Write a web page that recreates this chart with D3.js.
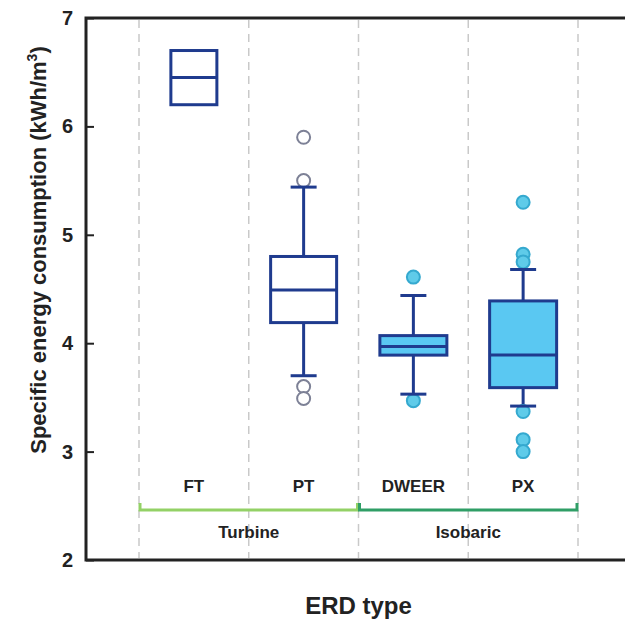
<!DOCTYPE html>
<html>
<head>
<meta charset="utf-8">
<script src="https://cdn.jsdelivr.net/npm/d3@7"></script>
<style>
  body { margin: 0; background: #fff; }
  text { font-family: "Liberation Sans", Arial, sans-serif; font-weight: bold; fill: #222; }
</style>
</head>
<body>
<div class="chart"></div>
<script>
// data
var categories = ["FT", "PT", "DWEER", "PX"];
var groups = ["Turbine", "Turbine", "Isobaric", "Isobaric"];
var q1 = [6.2, 4.19, 3.89, 3.59];
var median = [6.45, 4.49, 3.97, 3.89];
var q3 = [6.7, 4.8, 4.07, 4.39];
var whiskLow = [null, 3.7, 3.53, 3.42];
var whiskHigh = [null, 5.44, 4.44, 4.68];
var outliers = [
    [],
    [5.9, 5.5, 3.6, 3.49],
    [4.61, 3.47],
    [5.3, 4.82, 4.75, 3.37, 3.11, 3.0]
];
var yTicks = [2, 3, 4, 5, 6, 7];

var width = 625, height = 624;
var margin = {top: 18, right: 0, bottom: 64, left: 86};

var svg = d3.select(".chart").append("svg")
    .attr("width", width)
    .attr("height", height);

var y = d3.scaleLinear()
    .domain([2, 7])
    .range([height - margin.bottom, margin.top]);

var x = d3.scaleBand()
    .domain(categories)
    .range([139, 578])
    .padding(0);

// dashed separators
var seps = categories.map(function (c) { return x(c); });
seps.push(x(categories[categories.length - 1]) + x.bandwidth());
svg.selectAll(".sep")
    .data(seps)
    .enter().append("line")
    .attr("class", "sep")
    .attr("x1", function (d) { return d; })
    .attr("x2", function (d) { return d; })
    .attr("y1", y(7) + 2)
    .attr("y2", y(2) - 2)
    .attr("stroke", "#c9c9c9")
    .attr("stroke-width", 1.5)
    .attr("stroke-dasharray", "8,6");

var boxColor = "#1f3b8e";
var fillColor = {"FT": "#fff", "PT": "#fff", "DWEER": "#5ac8f2", "PX": "#5ac8f2"};
var boxWidth = {"FT": 46, "PT": 66, "DWEER": 67, "PX": 67};

var stats = categories.map(function (c, i) {
    return {cat: c, q1: q1[i], med: median[i], q3: q3[i],
            lo: whiskLow[i], hi: whiskHigh[i], out: outliers[i]};
});

var box = svg.selectAll(".box")
    .data(stats)
    .enter().append("g")
    .attr("class", "box")
    .attr("transform", function (d) { return "translate(" + (x(d.cat) + x.bandwidth() / 2) + ",0)"; });

// whiskers
box.filter(function (d) { return d.lo != null; }).each(function (d) {
    var g = d3.select(this);
    [[d.lo, d.q1], [d.hi, d.q3]].forEach(function (p) {
        g.append("line")
            .attr("x1", 0).attr("x2", 0)
            .attr("y1", y(p[0])).attr("y2", y(p[1]))
            .attr("stroke", boxColor).attr("stroke-width", 3);
    });
});

// outliers (drawn before caps so caps sit on top)
box.each(function (d) {
    var filled = fillColor[d.cat] !== "#fff";
    d3.select(this).selectAll("circle")
        .data(d.out)
        .enter().append("circle")
        .attr("cx", 0)
        .attr("cy", function (v) { return y(v); })
        .attr("r", 6.5)
        .attr("fill", filled ? "#5fcbe9" : "#fff")
        .attr("stroke", filled ? "#35a9cf" : "#7d8196")
        .attr("stroke-width", 2);
});

box.filter(function (d) { return d.lo != null; }).each(function (d) {
    var g = d3.select(this);
    [d.lo, d.hi].forEach(function (v) {
        g.append("line")
            .attr("x1", -13).attr("x2", 13)
            .attr("y1", y(v)).attr("y2", y(v))
            .attr("stroke", boxColor).attr("stroke-width", 3);
    });
});

box.append("rect")
    .attr("x", function (d) { return -boxWidth[d.cat] / 2; })
    .attr("width", function (d) { return boxWidth[d.cat]; })
    .attr("y", function (d) { return y(d.q3); })
    .attr("height", function (d) { return y(d.q1) - y(d.q3); })
    .attr("fill", function (d) { return fillColor[d.cat]; })
    .attr("stroke", boxColor)
    .attr("stroke-width", 3);

box.append("line")
    .attr("x1", function (d) { return -boxWidth[d.cat] / 2; })
    .attr("x2", function (d) { return boxWidth[d.cat] / 2; })
    .attr("y1", function (d) { return y(d.med); })
    .attr("y2", function (d) { return y(d.med); })
    .attr("stroke", boxColor)
    .attr("stroke-width", 3);

// category labels
svg.selectAll(".cat")
    .data(categories)
    .enter().append("text")
    .attr("class", "cat")
    .attr("x", function (d) { return x(d) + x.bandwidth() / 2; })
    .attr("y", 492)
    .attr("text-anchor", "middle")
    .style("font-size", "17px")
    .text(function (d) { return d; });

// group brackets
var groupNames = Array.from(new Set(groups));
var groupColor = {"Turbine": "#93d166", "Isobaric": "#2f9e66"};
var bracketY = 510;
groupNames.forEach(function (gname) {
    var members = categories.filter(function (c, i) { return groups[i] === gname; });
    var x0 = x(members[0]) + 1, x1 = x(members[members.length - 1]) + x.bandwidth() - 1;
    svg.append("path")
        .attr("d", "M" + x0 + "," + (bracketY - 7) + "V" + bracketY + "H" + x1 + "V" + (bracketY - 7))
        .attr("fill", "none")
        .attr("stroke", groupColor[gname])
        .attr("stroke-width", 3);
    svg.append("text")
        .attr("x", (x0 + x1) / 2)
        .attr("y", 538)
        .attr("text-anchor", "middle")
        .style("font-size", "17px")
        .text(gname);
});

// frame
svg.append("path")
    .attr("d", "M" + (width + 5) + "," + y(7) + "H" + margin.left + "V" + y(2) + "H" + (width + 5))
    .attr("fill", "none")
    .attr("stroke", "#222")
    .attr("stroke-width", 3);

// y axis
var yAxis = svg.append("g")
    .attr("transform", "translate(" + margin.left + ",0)")
    .call(d3.axisRight(y).tickValues(yTicks).tickSize(8).tickFormat(d3.format("d")));
yAxis.select(".domain").remove();
yAxis.selectAll(".tick line").attr("stroke", "#222").attr("stroke-width", 2);
yAxis.selectAll(".tick text")
    .attr("x", -13)
    .attr("text-anchor", "end")
    .style("font-size", "20px")
    .style("font-family", "Liberation Sans, Arial, sans-serif")
    .style("font-weight", "bold")
    .attr("fill", "#222");

// axis titles
svg.append("text")
    .attr("transform", "translate(46,250) rotate(-90)")
    .attr("text-anchor", "middle")
    .style("font-size", "22px")
    .html("Specific energy consumption (kWh/m<tspan dy='-9' style='font-size:14px'>3</tspan><tspan dy='9'>)</tspan>");

svg.append("text")
    .attr("x", (margin.left + width) / 2 + 3)
    .attr("y", 614)
    .attr("text-anchor", "middle")
    .style("font-size", "24px")
    .text("ERD type");
</script>
</body>
</html>
